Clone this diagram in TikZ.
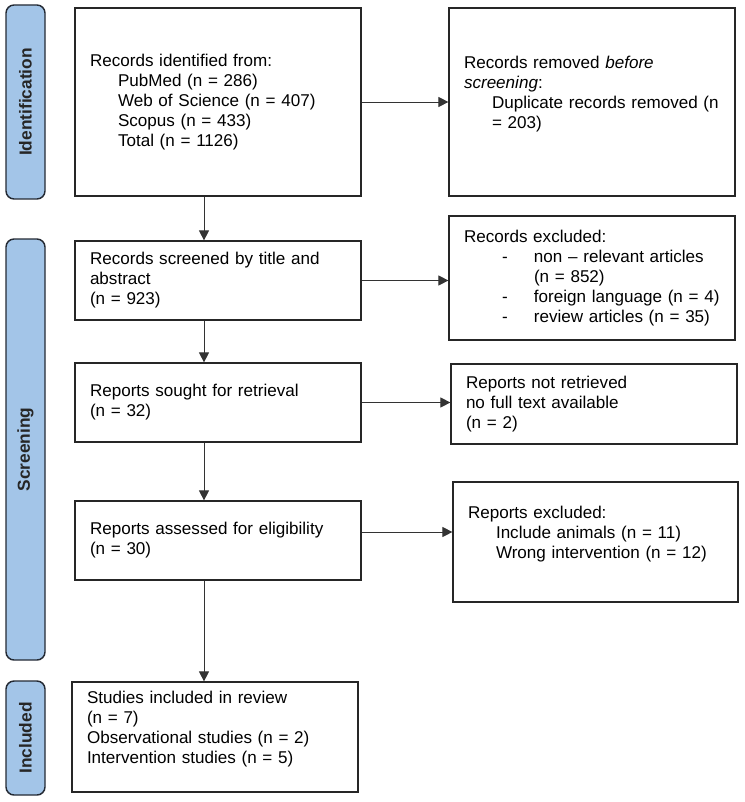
\documentclass[tikz,border=0pt]{standalone}
\usepackage{fontspec}
\setmainfont{Liberation Sans}
\usetikzlibrary{arrows.meta}
\definecolor{phasefill}{RGB}{163,197,232}
\definecolor{phaseline}{RGB}{36,42,52}
\tikzset{phase node/.style={rectangle, rounded corners=6pt, draw=phaseline, fill=phasefill,
    line width=1.1pt, rotate=90, minimum height=29.25pt, inner sep=0pt,
    font=\fontsize{13}{15}\selectfont\bfseries, text=black!85}}
\tikzset{flow node/.style={rectangle, draw=black!85, line width=0.9pt, align=left,
    text width=192pt, inner xsep=11.25pt, inner ysep=0pt, font=\fontsize{12.8}{15}\selectfont}}
\tikzset{flow edge/.style={draw=black!80, line width=0.7pt, -{Triangle[length=7.5pt, width=7.5pt]}}}
\newcommand{\ind}{\hspace*{21pt}}

\begin{document}
\begin{tikzpicture}
  [x=0.75pt, y=-0.75pt]
  \useasboundingbox (0,0) rectangle (744,802);

  % phases
  \node [phase node, minimum width=145.5pt]  (ident)  at (25.5, 102)   {Identification};
  \node [phase node, minimum width=315.75pt] (screen) at (25.5, 449.5) {Screening};
  \node [phase node, minimum width=85.5pt]   (incl)   at (25.5, 738)   {Included};

  % main column
  \node [flow node, minimum height=141pt]   (idrec)    at (218, 102)   {Records identified from:\\
    \ind PubMed (n = 286)\\ \ind Web of Science (n = 407)\\ \ind Scopus (n = 433)\\ \ind Total (n = 1126)};
  \node [flow node, minimum height=59.25pt] (screened) at (218, 280.5) {Records screened by title and\\ abstract\\ (n = 923)};
  \node [flow node, minimum height=59.25pt] (sought)   at (218, 402.5) {Reports sought for retrieval\\ (n = 32)};
  \node [flow node, minimum height=59.25pt] (assessed) at (218, 540.5) {Reports assessed for eligibility\\ (n = 30)};
  \node [flow node, minimum height=82.5pt]  (included) at (215, 737)   {Studies included in review\\ (n = 7)\\
    Observational studies (n = 2)\\ Intervention studies (n = 5)\\ \mbox{}};

  % side column
  \node [flow node, minimum height=141pt]   (removed)  at (592, 102)   {Records removed \textit{before}\\ \textit{screening}:\\
    \ind Duplicate records removed (n\\ \ind = 203)\\ \mbox{}};
  \node [flow node, minimum height=93pt]    (excluded) at (592, 278)   {Records excluded:\\
    \hspace*{28.5pt}\makebox[24pt][l]{-}non – relevant articles\\
    \hspace*{52.5pt}(n = 852)\\
    \hspace*{28.5pt}\makebox[24pt][l]{-}foreign language (n = 4)\\
    \hspace*{28.5pt}\makebox[24pt][l]{-}review articles (n = 35)};
  \node [flow node, minimum height=60pt]    (notretr)  at (594, 404)   {Reports not retrieved\\ no full text available\\ (n = 2)};
  \node [flow node, minimum height=90pt, text width=191.25pt] (repexcl) at (595.5, 542) {Reports excluded:\\
    \ind Include animals (n = 11)\\ \ind Wrong intervention (n = 12)\\ \mbox{}};

  \coordinate (spine)   at (204, 0);
  \coordinate (exclrow) at (0, 532);

  \draw [flow edge] (idrec.south -| spine)    to (screened.north -| spine);
  \draw [flow edge] (screened.south -| spine) to (sought.north -| spine);
  \draw [flow edge] (sought.south -| spine)   to (assessed.north -| spine);
  \draw [flow edge] (assessed.south -| spine) to (included.north -| spine);
  \draw [flow edge] (idrec.east)              to (idrec.east -| removed.west);
  \draw [flow edge] (screened.east)           to (screened.east -| excluded.west);
  \draw [flow edge] (sought.east)             to (sought.east -| notretr.west);
  \draw [flow edge] (assessed.east |- exclrow) to (repexcl.west |- exclrow);
\end{tikzpicture}
\end{document}
